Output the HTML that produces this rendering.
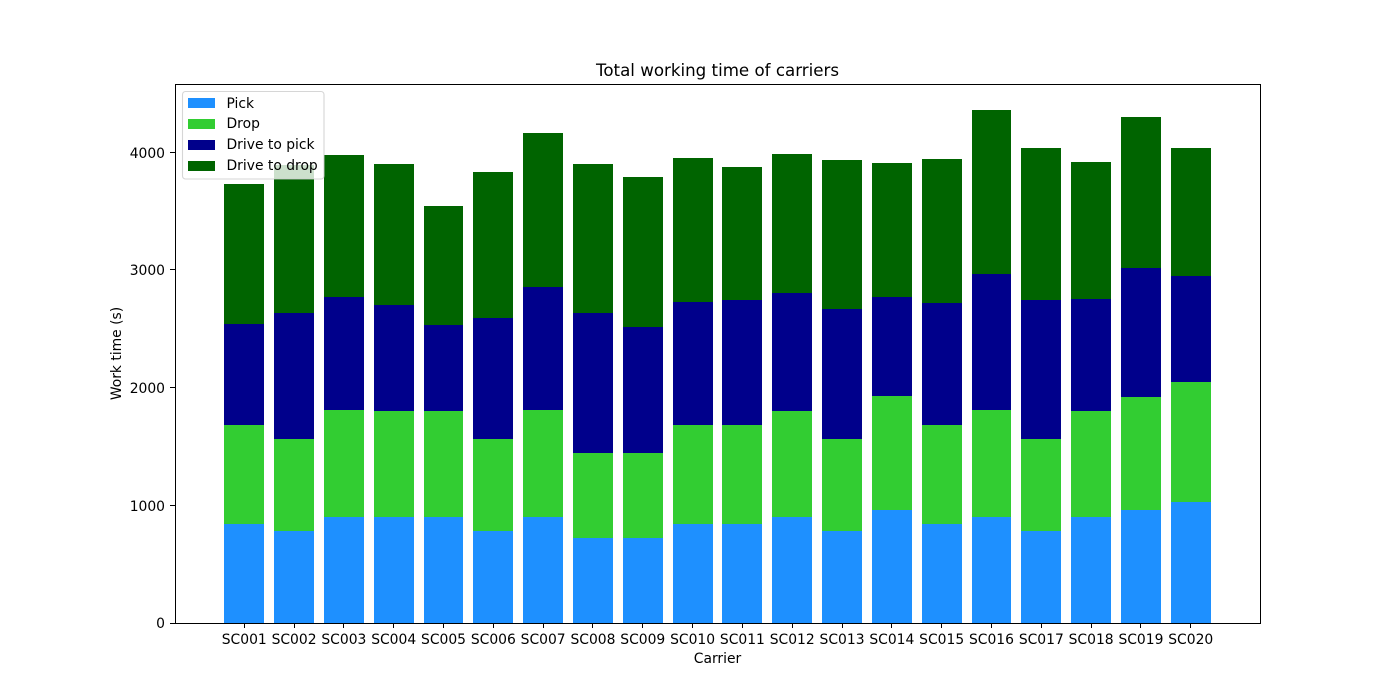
<!DOCTYPE html>
<html lang="en">
<head>
<meta charset="utf-8">
<title>Total working time of carriers</title>
<style>
html,body{margin:0;padding:0;background:#fff;width:1400px;height:700px;overflow:hidden}
svg{display:block}
text{font-family:"DejaVu Sans",sans-serif;fill:#000;font-size:13.89px}
</style>
</head>
<body>
<svg id="chart" xmlns="http://www.w3.org/2000/svg" width="1400" height="700" viewBox="0 0 1400 700"></svg>
<script>
const categories = ["SC001","SC002","SC003","SC004","SC005","SC006","SC007","SC008","SC009","SC010","SC011","SC012","SC013","SC014","SC015","SC016","SC017","SC018","SC019","SC020"];
const pickValues = [840,780,900,900,900,780,900,720,720,840,840,900,780,960,840,900,780,900,960,1030];
const dropValues = [840,780,910,900,900,780,910,725,725,840,840,900,780,970,840,910,780,900,960,1020];
const driveToPickValues = [860,1070,960,900,730,1030,1045,1190,1070,1050,1065,1000,1110,840,1040,1155,1185,950,1100,900];
const driveToDropValues = [1190,1260,1210,1200,1015,1240,1305,1265,1275,1220,1130,1185,1265,1140,1220,1397,1290,1165,1280,1085];
const seriesLabels = ["Pick","Drop","Drive to pick","Drive to drop"];
const seriesColors = ["#1e90ff","#32cd32","#00008b","#006400"];
const yTickValues = [0,1000,2000,3000,4000];

const seriesValues = [pickValues, dropValues, driveToPickValues, driveToDropValues];
const svg = document.getElementById('chart');
const NS = 'http://www.w3.org/2000/svg';
const plot = {left:175, right:1260, top:84, bottom:623};

function make(tag, attrs, text) {
  const el = document.createElementNS(NS, tag);
  for (const k in attrs) el.setAttribute(k, attrs[k]);
  if (text !== undefined) el.textContent = text;
  svg.appendChild(el);
  return el;
}

const totals = categories.map((_, i) => seriesValues.reduce((s, a) => s + a[i], 0));
const yMax = Math.max(...totals) * 1.05;
const barWidth = 0.8;
const xMin = -barWidth / 2 - 0.05 * (categories.length - 1 + barWidth);
const xMax = categories.length - 1 + barWidth / 2 + 0.05 * (categories.length - 1 + barWidth);
function xScale(v) { return plot.left + (v - xMin) / (xMax - xMin) * (plot.right - plot.left); }
function yScale(v) { return plot.bottom - v / yMax * (plot.bottom - plot.top); }

// bars
const running = categories.map(() => 0);
seriesValues.forEach((values, s) => {
  values.forEach((v, i) => {
    const x0 = Math.round(xScale(i - barWidth / 2));
    const x1 = Math.round(xScale(i + barWidth / 2));
    const y0 = Math.round(yScale(running[i]));
    const y1 = Math.round(yScale(running[i] + v));
    const bar = make('rect', {x:x0, y:y1, width:x1 - x0, height:y0 - y1, fill:seriesColors[s], 'shape-rendering':'crispEdges'});
    
    
    running[i] += v;
  });
});

// x ticks
categories.forEach((c, i) => {
  const x = xScale(i);
  const tx = Math.floor(x) + 0.5;
  const tick = make('line', {x1:tx, x2:tx, y1:plot.bottom, y2:plot.bottom + 5, stroke:'#000', 'stroke-width':1, 'shape-rendering':'crispEdges'});
  
  
  const label = make('text', {x:x, y:644, 'text-anchor':'middle'}, c);
  
  
});

// y ticks
yTickValues.forEach(v => {
  const y = yScale(v);
  const ty = Math.floor(y) + 0.5;
  const tick = make('line', {x1:plot.left - 5, x2:plot.left, y1:ty, y2:ty, stroke:'#000', 'stroke-width':1, 'shape-rendering':'crispEdges'});
  
  
  const label = make('text', {x:165, y:Math.ceil(y + 5), 'text-anchor':'end'}, String(v));
  
  
});

// frame
const frame = make('rect', {x:plot.left + 0.5, y:plot.top + 0.5, width:plot.right - plot.left, height:plot.bottom - plot.top, fill:'none', stroke:'#000', 'stroke-width':1, 'shape-rendering':'crispEdges'});



// titles
const title = make('text', {x:717.5, y:76, 'text-anchor':'middle', style:'font-size:16.67px'}, 'Total working time of carriers');


const xTitle = make('text', {x:717.5, y:663, 'text-anchor':'middle'}, 'Carrier');


const yTitle = make('text', {x:0, y:0, 'text-anchor':'middle', transform:'translate(121 353.5) rotate(-90)'}, 'Work time (s)');



// legend
const legendBox = make('rect', {x:182.5, y:91.5, width:141.5, height:87.5, rx:3, ry:3, fill:'#fff', 'fill-opacity':0.8, stroke:'#ccc', 'stroke-opacity':0.8, 'stroke-width':1.1});


seriesLabels.forEach((name, s) => {
  const swatch = make('rect', {x:188, y:98 + s * 21, width:27, height:10, fill:seriesColors[s], 'shape-rendering':'crispEdges'});
  
  
  const label = make('text', {x:226.5, y:Math.floor(108 + s * 20.8)}, name);
  
  
});
</script>
</body>
</html>
